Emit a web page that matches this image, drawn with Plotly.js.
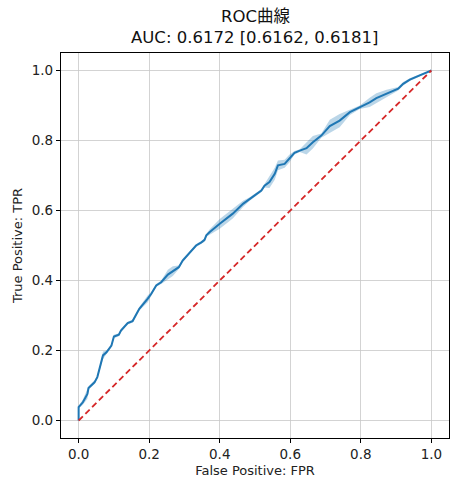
<!DOCTYPE html>
<html>
<head>
<meta charset="utf-8">
<script src="https://cdn.plot.ly/plotly-3.0.1.min.js"></script>
<style>html,body{margin:0;padding:0;background:#fff;}#chart{width:458px;height:491px;}</style>
</head>
<body>
<div id="chart"></div>
<script>
const fpr = [0,0,0.012,0.025,0.028,0.045,0.053,0.062,0.069,0.079,0.093,0.100,0.114,0.120,0.139,0.153,0.165,0.172,0.196,0.206,0.220,0.234,0.253,0.267,0.284,0.295,0.316,0.333,0.348,0.357,0.362,0.371,0.400,0.437,0.466,0.485,0.518,0.527,0.541,0.556,0.565,0.584,0.598,0.612,0.627,0.646,0.664,0.688,0.712,0.740,0.769,0.797,0.825,0.844,0.873,0.906,0.920,0.939,0.967,1.0];
const tpr = [0,0.038,0.052,0.076,0.093,0.109,0.124,0.157,0.186,0.195,0.214,0.240,0.245,0.257,0.278,0.284,0.305,0.319,0.348,0.362,0.386,0.395,0.417,0.427,0.438,0.457,0.481,0.500,0.509,0.516,0.529,0.538,0.562,0.591,0.619,0.633,0.657,0.671,0.681,0.705,0.729,0.733,0.748,0.765,0.771,0.778,0.795,0.814,0.841,0.857,0.881,0.895,0.909,0.921,0.933,0.948,0.962,0.974,0.986,1.0];
const tprLower = [0,0.034,0.045,0.062,0.088,0.104,0.119,0.150,0.175,0.190,0.210,0.235,0.241,0.252,0.274,0.280,0.301,0.314,0.338,0.357,0.382,0.390,0.403,0.413,0.433,0.452,0.477,0.496,0.505,0.511,0.525,0.530,0.548,0.577,0.610,0.628,0.653,0.666,0.664,0.688,0.715,0.722,0.738,0.760,0.767,0.760,0.777,0.808,0.823,0.838,0.873,0.890,0.896,0.907,0.923,0.943,0.957,0.970,0.983,1.0];
const tprUpper = [0,0.042,0.060,0.090,0.098,0.114,0.129,0.164,0.197,0.200,0.218,0.245,0.249,0.262,0.282,0.288,0.309,0.324,0.358,0.367,0.390,0.400,0.431,0.441,0.443,0.462,0.485,0.504,0.513,0.521,0.533,0.546,0.576,0.605,0.628,0.638,0.661,0.676,0.698,0.722,0.743,0.745,0.760,0.770,0.775,0.796,0.813,0.820,0.859,0.876,0.889,0.900,0.922,0.935,0.945,0.953,0.967,0.978,0.989,1.0];
const diag = [0,1];
const xTicks = [0,0.2,0.4,0.6,0.8,1.0];
const yTicks = [0,0.2,0.4,0.6,0.8,1.0];
const titleLines = ['ROC曲線','AUC: 0.6172 [0.6162, 0.6181]'];

const font = '"DejaVu Sans", "Noto Sans CJK JP", sans-serif';
const traces = [
  {x: fpr, y: tprLower, mode: 'lines', line: {width: 0, color: 'rgba(31,119,180,0)'}, hoverinfo: 'skip', showlegend: false},
  {x: fpr, y: tprUpper, mode: 'lines', fill: 'tonexty', fillcolor: 'rgba(31,119,180,0.3)', line: {width: 0, color: 'rgba(31,119,180,0)'}, hoverinfo: 'skip', showlegend: false},
  {x: fpr, y: tpr, mode: 'lines', line: {color: '#1f77b4', width: 2}, showlegend: false},
  {x: diag, y: diag, mode: 'lines', line: {color: '#d62728', width: 1.8, dash: '6px,3.5px'}, showlegend: false}
];
const axisCommon = {
  showline: true, mirror: true, linecolor: '#000', linewidth: 1.1,
  ticks: 'outside', ticklen: 4, tickcolor: '#000', tickwidth: 1,
  showgrid: true, gridcolor: '#c8c8c8', gridwidth: 0.8,
  zeroline: false, tickformat: '.1f',
  tickfont: {family: font, size: 13.5, color: '#222'}
};
const layout = {
  width: 458, height: 491,
  margin: {l: 61, r: 9, t: 53, b: 53},
  paper_bgcolor: '#fff', plot_bgcolor: '#fff',
  font: {family: font, color: '#222'},
  annotations: [
    {text: titleLines[0], xref: 'paper', yref: 'paper', x: 0.5, y: 1.096, xanchor: 'center', yanchor: 'middle', showarrow: false, font: {family: font, size: 16.5, color: '#111'}},
    {text: titleLines[1], xref: 'paper', yref: 'paper', x: 0.5, y: 1.039, xanchor: 'center', yanchor: 'middle', showarrow: false, font: {family: font, size: 16.5, color: '#111'}}
  ],
  xaxis: Object.assign({}, axisCommon, {range: [-0.05, 1.05], tickvals: xTicks, title: {text: 'False Positive: FPR', font: {family: font, size: 13, color: '#222'}, standoff: 4}}),
  yaxis: Object.assign({}, axisCommon, {range: [-0.05, 1.05], tickvals: yTicks, title: {text: 'True Positive: TPR', font: {family: font, size: 13, color: '#222'}, standoff: 6}}),
  showlegend: false
};
Plotly.newPlot('chart', traces, layout, {displayModeBar: false, staticPlot: true});
</script>
</body>
</html>
